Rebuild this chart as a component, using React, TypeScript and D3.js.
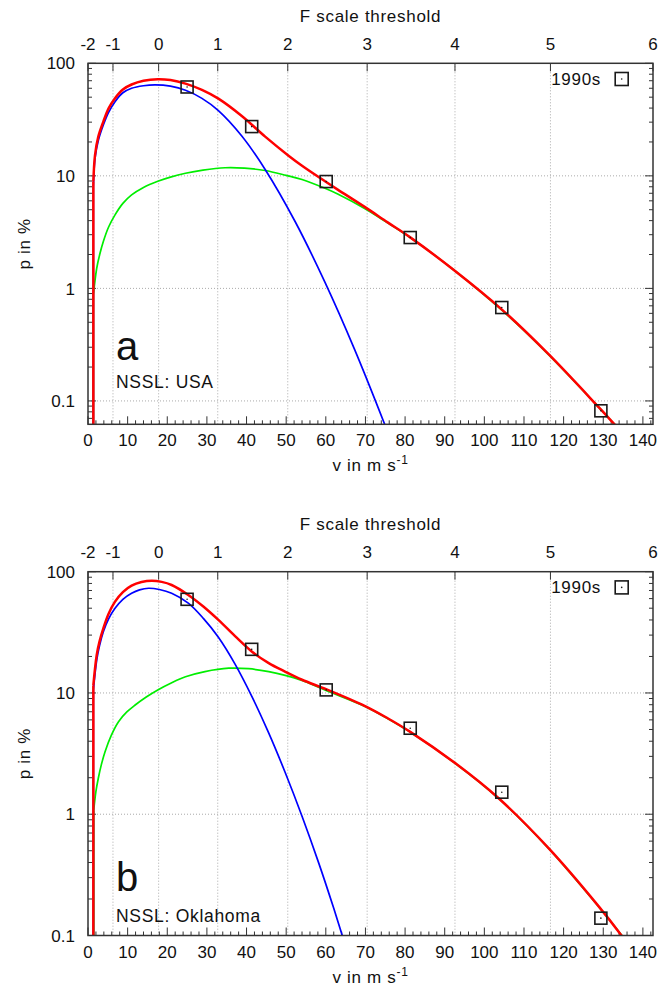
import React from 'react';
import * as d3 from 'd3';

// ---------- data ----------
const vTickValues = [0, 10, 20, 30, 40, 50, 60, 70, 80, 90, 100, 110, 120, 130, 140];
const fTickLabels = [-2, -1, 0, 1, 2, 3, 4, 5, 6];
const fGridLabels = [-1, 0, 1, 2, 3, 4, 5];

const obsV = [25.0, 41.3, 60.1, 81.3, 104.4, 129.4];
const obsA = [61.6, 27.4, 8.9, 2.83, 0.676, 0.0817];
const obsB = [59.2, 22.9, 10.6, 5.12, 1.52, 0.139];

const blueA: [number, number][] = [
  [1.35, 8.0], [1.77, 14.3], [2.6, 20.6], [3.87, 28.3], [5.2, 36.7], [6.82, 45.6],
  [8.8, 54.7], [11.0, 60.0], [14.0, 63.2], [17.0, 64.3], [20.8, 62.6], [24.6, 57.6],
  [28.75, 48.8], [32.9, 38.0], [38.8, 22.6], [44.7, 11.4], [52.25, 3.93], [59.8, 1.13],
  [67.2, 0.29], [74.6, 0.0653], [76.0, 0.0485],
];
const greenA: [number, number][] = [
  [1.35, 0.875], [2.2, 1.51], [3.0, 2.03], [3.87, 2.61], [5.2, 3.51], [6.82, 4.5],
  [8.8, 5.69], [11.0, 6.77], [14.0, 7.89], [17.6, 8.95], [20.8, 9.75], [24.6, 10.55],
  [29.0, 11.25], [34.6, 11.8], [39.5, 11.7], [44.7, 11.15], [50.0, 10.1], [54.0, 9.29],
  [59.8, 7.75], [63.0, 6.89], [69.9, 5.1], [75.6, 3.82], [81.3, 2.83], [92.7, 1.42],
  [104.5, 0.637], [116.2, 0.258], [128.9, 0.0876], [132.9, 0.0617], [134.5, 0.0537],
];
const redA: [number, number][] = [
  [1.35, 8.9], [1.77, 15.3], [2.6, 22.3], [3.87, 30.3], [5.2, 39.8], [6.82, 49.0],
  [8.8, 58.5], [11.0, 64.8], [14.0, 70.0], [17.6, 72.3], [20.8, 71.0], [24.6, 66.0],
  [28.75, 58.0], [32.9, 48.5], [38.8, 34.0], [44.7, 22.3], [50.6, 15.1], [54.0, 12.3],
  [59.8, 8.95], [63.0, 7.55], [69.9, 5.27], [75.6, 3.86], [81.3, 2.84], [92.7, 1.42],
  [104.5, 0.645], [116.2, 0.26], [128.9, 0.0876], [132.9, 0.0617], [134.5, 0.0537],
];

const blueB: [number, number][] = [
  [1.35, 10.5], [2.2, 18.7], [2.9, 24.5], [3.87, 32.0], [5.2, 40.9], [6.82, 49.9],
  [8.8, 59.2], [11.0, 66.4], [13.0, 70.8], [15.3, 73.0], [18.0, 71.3], [21.1, 66.4],
  [25.3, 55.0], [29.1, 41.2], [32.9, 28.8], [37.1, 17.3], [41.3, 9.42], [45.5, 4.75],
  [49.7, 2.23], [54.0, 0.963], [58.2, 0.397], [62.0, 0.1675], [64.5, 0.092], [66.0, 0.065],
];
const greenB: [number, number][] = [
  [1.45, 1.08], [2.0, 1.54], [2.6, 1.98], [3.4, 2.59], [4.3, 3.28], [5.9, 4.49],
  [7.7, 5.8], [9.8, 6.97], [11.9, 7.96], [14.7, 9.27], [17.6, 10.6], [21.0, 12.1],
  [24.6, 13.6], [29.5, 15.0], [35.5, 16.0], [40.5, 15.85], [45.6, 15.0], [50.0, 13.9],
  [54.0, 12.7], [60.2, 10.45], [69.9, 7.75], [75.6, 6.15], [81.3, 4.76], [92.7, 2.62],
  [103.6, 1.35], [116.2, 0.523], [128.9, 0.172], [134.6, 0.101], [136.5, 0.083],
];
const redB: [number, number][] = [
  [1.35, 11.6], [2.2, 20.6], [2.9, 26.5], [3.87, 34.1], [5.2, 45.0], [6.82, 56.6],
  [8.8, 67.9], [11.0, 76.7], [13.5, 82.2], [16.1, 84.3], [18.6, 82.4], [21.1, 77.7],
  [25.3, 64.3], [29.1, 51.6], [32.9, 40.0], [37.1, 29.4], [41.3, 22.0], [45.5, 17.7],
  [49.7, 15.0], [54.0, 12.85], [60.2, 10.7], [69.9, 7.8], [75.6, 6.19], [81.3, 4.78],
  [92.7, 2.63], [103.6, 1.355], [116.2, 0.525], [128.9, 0.173], [134.6, 0.1], [136.5, 0.082],
];

// ---------- layout ----------
const W = 662;
const H = 1003;
const LEFT = 88;
const RIGHT = 653;
const V_MAX = 142.55; // v at F = 6
const FONT = "'Liberation Sans', Arial, Helvetica, sans-serif";
const TEXT = '#111';
const LS = 0.7; // glyph advance rounding of the original renderer

type PanelProps = {
  id: string;
  top: number;
  bottom: number;
  yMin: number;
  obs: number[];
  blue: [number, number][];
  green: [number, number][];
  red: [number, number][];
  letter: string;
  letterY: number;
  region: string;
  regionY: number;
};

function Panel(p: PanelProps) {
  const x = d3.scaleLinear().domain([0, V_MAX]).range([LEFT, RIGHT]);
  // Fujita: v ~ (F+2)^1.5 -> power scale on shifted F
  const fx = d3.scalePow().exponent(1.5).domain([0, 8]).range([LEFT, RIGHT]);
  const y = d3.scaleLog().domain([p.yMin, 100]).range([p.bottom, p.top]);

  const line = d3
    .line<[number, number]>()
    .x((d) => x(d[0]))
    .y((d) => y(d[1]))
    .curve(d3.curveCatmullRom.alpha(0.5));

  const decades = [0.01, 0.1, 1, 10, 100].filter((d) => d >= p.yMin - 1e-9 && d <= 100);
  const minor: number[] = [];
  [0.01, 0.1, 1, 10].forEach((d) => {
    for (let k = 2; k <= 9; k++) {
      const v = k * d;
      if (v > p.yMin && v < 100) minor.push(v);
    }
  });
  const vMinor: number[] = [];
  for (let v = 0; v <= 142; v += 2) if (v % 10 !== 0) vMinor.push(v);

  const clip = `clip-${p.id}`;
  const border = '#333';
  const majorLen = 8;
  const minorLen = 4;

  const drawCurve = (data: [number, number][], color: string, w: number) => (
    <g clipPath={`url(#${clip})`}>
      <line
        x1={x(data[0][0])}
        x2={x(data[0][0])}
        y1={y(data[0][1])}
        y2={p.bottom + 2}
        stroke={color}
        strokeWidth={w}
      />
      <path d={line(data) || ''} fill="none" stroke={color} strokeWidth={w} strokeLinejoin="round" />
    </g>
  );

  const sq = 12;
  return (
    <g>
      <defs>
        <clipPath id={clip}>
          <rect x={LEFT} y={p.top} width={RIGHT - LEFT} height={p.bottom - p.top} />
        </clipPath>
      </defs>

      {/* grid */}
      {fGridLabels.map((f) => (
        <line
          key={'gv' + f}
          x1={fx(f + 2)}
          x2={fx(f + 2)}
          y1={p.top}
          y2={p.bottom}
          stroke="#aaa"
          strokeWidth={1}
          strokeDasharray="1,2"
        />
      ))}
      {decades
        .filter((d) => d > p.yMin * 1.01 && d < 100)
        .map((d) => (
          <line
            key={'gh' + d}
            x1={LEFT}
            x2={RIGHT}
            y1={y(d)}
            y2={y(d)}
            stroke="#aaa"
            strokeWidth={1}
            strokeDasharray="1,2"
          />
        ))}

      {/* ticks: left & right (log) */}
      {decades.map((d) => (
        <g key={'yt' + d}>
          <line x1={LEFT} x2={LEFT + majorLen} y1={y(d)} y2={y(d)} stroke={border} strokeWidth={1} />
          <line x1={RIGHT} x2={RIGHT - majorLen} y1={y(d)} y2={y(d)} stroke={border} strokeWidth={1} />
          <text
            x={75}
            y={y(d)}
            dy="0.36em"
            textAnchor="end"
            fontFamily={FONT}
            fontSize={17}
            fill={TEXT}
          >
            {String(d)}
          </text>
        </g>
      ))}
      {minor.map((d) => (
        <g key={'ym' + d}>
          <line x1={LEFT} x2={LEFT + minorLen} y1={y(d)} y2={y(d)} stroke={border} strokeWidth={1} />
          <line x1={RIGHT} x2={RIGHT - minorLen} y1={y(d)} y2={y(d)} stroke={border} strokeWidth={1} />
        </g>
      ))}

      {/* bottom ticks */}
      {vTickValues.map((v) => (
        <g key={'xt' + v}>
          <line x1={x(v)} x2={x(v)} y1={p.bottom} y2={p.bottom - majorLen} stroke={border} strokeWidth={1} />
          <text
            x={x(v)}
            y={p.bottom + 22}
            textAnchor="middle"
            fontFamily={FONT}
            fontSize={17}
            fill={TEXT}
          >
            {v}
          </text>
        </g>
      ))}
      {vMinor.map((v) => (
        <line key={'xm' + v} x1={x(v)} x2={x(v)} y1={p.bottom} y2={p.bottom - minorLen} stroke={border} strokeWidth={1} />
      ))}

      {/* top F-scale ticks */}
      {fTickLabels.map((f) => (
        <g key={'ft' + f}>
          <line x1={fx(f + 2)} x2={fx(f + 2)} y1={p.top} y2={p.top + majorLen} stroke={border} strokeWidth={1} />
          <text
            x={fx(f + 2)}
            y={p.top - 13.5}
            textAnchor="middle"
            fontFamily={FONT}
            fontSize={17}
            fill={TEXT}
          >
            {f}
          </text>
        </g>
      ))}

      {/* curves */}
      {drawCurve(p.green, '#00ee00', 1.7)}
      {drawCurve(p.blue, '#0000ff', 1.7)}
      {drawCurve(p.red, '#ff0000', 2.5)}

      {/* observations */}
      {obsV.map((v, i) => (
        <g key={'o' + i}>
          <rect
            x={x(v) - sq / 2}
            y={y(p.obs[i]) - sq / 2}
            width={sq}
            height={sq}
            fill="none"
            stroke="#1a1a1a"
            strokeWidth={1.6}
          />
          <circle cx={x(v)} cy={y(p.obs[i])} r={0.8} fill="#1a1a1a" />
        </g>
      ))}

      {/* border */}
      <rect
        x={LEFT}
        y={p.top}
        width={RIGHT - LEFT}
        height={p.bottom - p.top}
        fill="none"
        stroke={border}
        strokeWidth={1.5}
      />

      {/* legend */}
      <text
        x={601}
        y={p.top + 21.5}
        textAnchor="end"
        fontFamily={FONT}
        fontSize={17}
        letterSpacing={LS}
        fill={TEXT}
      >
        1990s
      </text>
      <rect
        x={621.7 - 6.5}
        y={p.top + 15.7 - 6.5}
        width={13}
        height={13}
        fill="none"
        stroke="#1a1a1a"
        strokeWidth={1.6}
      />
      <circle cx={621.7} cy={p.top + 15.7} r={0.8} fill="#1a1a1a" />

      {/* axis titles */}
      <text
        x={(LEFT + RIGHT) / 2}
        y={p.top - 41.5}
        textAnchor="middle"
        fontFamily={FONT}
        fontSize={17}
        letterSpacing={LS}
        fill={TEXT}
      >
        F scale threshold
      </text>
      <text
        x={(LEFT + RIGHT) / 2}
        y={p.bottom + 47}
        textAnchor="middle"
        fontFamily={FONT}
        fontSize={17}
        letterSpacing={LS}
        fill={TEXT}
      >
        v in m s
        <tspan fontSize={12} dy={-7}>
          -1
        </tspan>
      </text>
      <text
        transform={`translate(30,${(p.top + p.bottom) / 2}) rotate(-90)`}
        textAnchor="middle"
        fontFamily={FONT}
        fontSize={17}
        letterSpacing={LS}
        fill={TEXT}
      >
        p in %
      </text>

      {/* panel labels */}
      <text x={116} y={p.letterY} fontFamily={FONT} fontSize={40} fill={TEXT}>
        {p.letter}
      </text>
      <text
        x={116}
        y={p.regionY}
        fontFamily={FONT}
        fontSize={17.5}
        letterSpacing={LS}
        fill={TEXT}
      >
        {p.region}
      </text>
    </g>
  );
}

export default function App() {
  return (
    <svg
      width={W}
      height={H}
      viewBox={`0 0 ${W} ${H}`}
      style={{ position: 'absolute', left: 0, top: 0, display: 'block', background: '#fff' }}
    >
      <rect x={0} y={0} width={W} height={H} fill="#fff" />
      <Panel
        id="a"
        top={63.3}
        bottom={424.3}
        yMin={0.062}
        obs={obsA}
        blue={blueA}
        green={greenA}
        red={redA}
        letter="a"
        letterY={360}
        region="NSSL: USA"
        regionY={388}
      />
      <Panel
        id="b"
        top={571.7}
        bottom={935.5}
        yMin={0.1}
        obs={obsB}
        blue={blueB}
        green={greenB}
        red={redB}
        letter="b"
        letterY={891}
        region="NSSL: Oklahoma"
        regionY={921.5}
      />
    </svg>
  );
}
